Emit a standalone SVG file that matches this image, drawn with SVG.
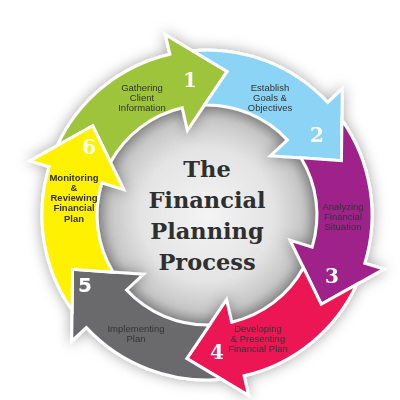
<svg xmlns="http://www.w3.org/2000/svg" width="400" height="400" viewBox="0 0 400 400">
<defs>
<radialGradient id="disk" cx="0.5" cy="0.5" r="0.5">
<stop offset="0" stop-color="#f4f4f4"/>
<stop offset="0.6" stop-color="#e4e4e4"/>
<stop offset="0.87" stop-color="#c6c6c6"/>
<stop offset="1" stop-color="#a0a0a0"/>
</radialGradient>
<filter id="glow" x="-30%" y="-30%" width="160%" height="160%">
<feDropShadow dx="0" dy="0" stdDeviation="7" flood-color="#000" flood-opacity="0.35"/>
</filter>
<path id="arrow" d="M -130.27 -101.28 A 165 165 0 0 1 0 -165 L 0 -185 L 51.96 -135.37 L 0 -87 L 0 -110 A 110 110 0 0 0 -82.16 -73.14 L -91.25 -112.68 Z"/>
</defs>
<style>
.a{stroke:#fff;stroke-width:3;stroke-linejoin:miter}
.lbl{font-family:"Liberation Sans",Arial,sans-serif;font-size:9.5px;fill:#333;text-anchor:middle}
.num{font-family:"DejaVu Serif",serif;font-weight:bold;font-size:20px;fill:#fff;text-anchor:middle}
.title{font-family:"DejaVu Serif",serif;font-weight:bold;font-size:22.5px;fill:#2f2f2f;text-anchor:middle}
</style>
<rect width="400" height="400" fill="#fff"/>
<circle cx="207" cy="215" r="111" fill="url(#disk)"/>
<g id="title">
<text class="title" x="207" y="177">The</text>
<text class="title" x="207" y="208">Financial</text>
<text class="title" x="207" y="239">Planning</text>
<text class="title" x="207" y="270">Process</text>
</g>
<g id="arrows" filter="url(#glow)">
<g id="step1"><use href="#arrow" class="a" fill="#9dc43b" transform="translate(207 215) rotate(-13)"/></g>
<g id="step2"><use href="#arrow" class="a" fill="#8bd4f5" transform="translate(207 215) rotate(47)"/></g>
<g id="step3"><use href="#arrow" class="a" fill="#9e2189" transform="translate(207 215) rotate(107)"/></g>
<g id="step4"><use href="#arrow" class="a" fill="#ed1654" transform="translate(207 215) rotate(167)"/></g>
<g id="step5"><use href="#arrow" class="a" fill="#6b6b6d" transform="translate(207 215) rotate(227)"/></g>
<g id="step6"><use href="#arrow" class="a" fill="#fff100" transform="translate(207 215) rotate(287)"/></g>
</g>
<g id="labels">
<text class="lbl" x="142" y="90.5">Gathering</text>
<text class="lbl" x="142" y="100.8">Client</text>
<text class="lbl" x="142" y="111">Information</text>
<text class="num" x="190" y="87">1</text>
<text class="lbl" x="270" y="90.5">Establish</text>
<text class="lbl" x="270" y="100.8">Goals &amp;</text>
<text class="lbl" x="270" y="111">Objectives</text>
<text class="num" x="317" y="142">2</text>
<text class="lbl" x="343" y="209.5">Analyzing</text>
<text class="lbl" x="343" y="219.8">Financial</text>
<text class="lbl" x="343" y="230">Situation</text>
<text class="num" x="332" y="283">3</text>
<text class="lbl" x="258" y="331.5">Developing</text>
<text class="lbl" x="258" y="341.8">&amp; Presenting</text>
<text class="lbl" x="258" y="352">Financial Plan</text>
<text class="num" x="217" y="359">4</text>
<text class="lbl" x="136" y="331.5">Implementing</text>
<text class="lbl" x="136" y="341.8">Plan</text>
<text class="num" x="85" y="292" style="font-family:'DejaVu Sans',sans-serif">5</text>
<text class="lbl" x="74" y="180.5" font-weight="bold" font-size="8.8">Monitoring</text>
<text class="lbl" x="74" y="190.8" font-weight="bold" font-size="8.8">&amp;</text>
<text class="lbl" x="74" y="201" font-weight="bold" font-size="8.8">Reviewing</text>
<text class="lbl" x="74" y="211.3" font-weight="bold" font-size="8.8">Financial</text>
<text class="lbl" x="74" y="221.5" font-weight="bold" font-size="8.8">Plan</text>
<text class="num" x="89" y="154">6</text>
</g>
</svg>
